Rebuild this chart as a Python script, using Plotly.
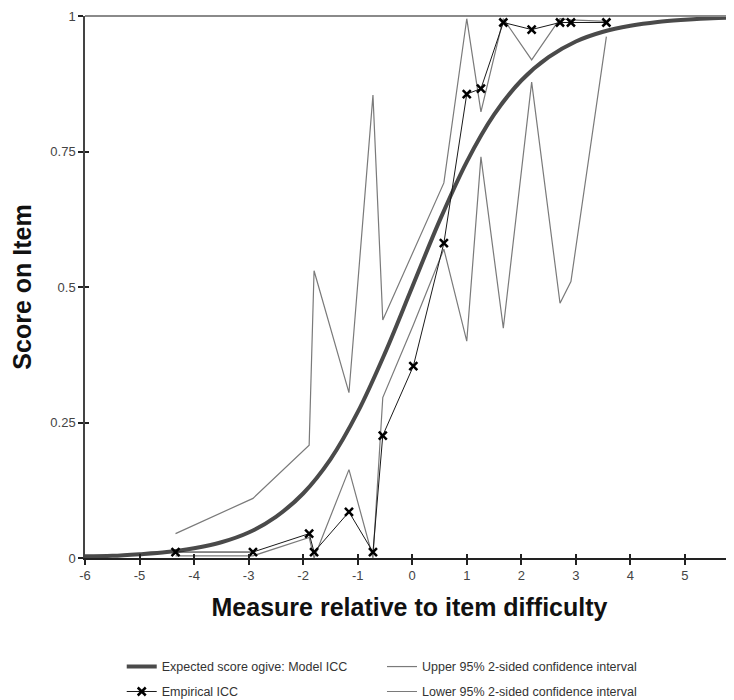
import plotly.graph_objects as go

# ---- data ----
model_x = [-6, -5.5, -5, -4.5, -4, -3.5, -3, -2.5, -2, -1.5, -1, -0.5, 0, 0.5, 1, 1.5, 2, 2.5, 3, 3.5, 4, 4.5, 5, 5.5, 5.9]
model_y = [0.003, 0.004, 0.007, 0.011, 0.018, 0.029, 0.047, 0.076, 0.119, 0.182, 0.269, 0.378, 0.5, 0.622,
           0.731, 0.818, 0.881, 0.924, 0.953, 0.971, 0.982, 0.989, 0.993, 0.996, 0.997]

emp_x = [-4.34, -2.92, -1.89, -1.80, -1.16, -0.72, -0.54, 0.02, 0.58, 1.00, 1.26, 1.67, 2.19, 2.71, 2.91, 3.56]
emp_y = [0.011, 0.011, 0.045, 0.011, 0.085, 0.011, 0.226, 0.354, 0.581, 0.856, 0.866, 0.988, 0.975, 0.988, 0.988, 0.988]
upper_y = [0.045, 0.110, 0.208, 0.530, 0.305, 0.854, 0.439, 0.565, 0.692, 0.995, 0.823, 0.995, 0.919, 0.995, 0.993, 0.990]
lower_y = [0.004, 0.004, 0.038, 0.0, 0.163, 0.0, 0.296, 0.43, 0.57, 0.40, 0.74, 0.424, 0.878, 0.47, 0.51, 0.962]

x_ticks = [-6, -5, -4, -3, -2, -1, 0, 1, 2, 3, 4, 5]
x_tick_text = ["-6", "-5", "-4", "-3", "-2", "-1", "0", "1", "2", "3", "4", "5"]
y_ticks = [0, 0.25, 0.5, 0.75, 1]
y_tick_text = ["0", "0.25", "0.5", "0.75", "1"]

x_title = "Measure relative to item difficulty"
y_title = "Score on Item"
names = ["Expected score ogive: Model ICC", "Empirical ICC",
         "Upper 95% 2-sided confidence interval", "Lower 95% 2-sided confidence interval"]

FONT = "Liberation Sans, Arial, sans-serif"

fig = go.Figure()
fig.add_trace(go.Scatter(x=emp_x, y=upper_y, mode="lines", name=names[2],
                         line=dict(color="#7a7a7a", width=1.2), legend="legend3", cliponaxis=False))
fig.add_trace(go.Scatter(x=emp_x, y=lower_y, mode="lines", name=names[3],
                         line=dict(color="#7a7a7a", width=1.2), legend="legend4", cliponaxis=False))
fig.add_trace(go.Scatter(x=model_x, y=model_y, mode="lines", name=names[0], line_shape="spline",
                         line=dict(color="#4a4a4a", width=4), legend="legend", cliponaxis=False))
fig.add_trace(go.Scatter(x=emp_x, y=emp_y, mode="lines+markers", name=names[1],
                         line=dict(color="#1a1a1a", width=1),
                         marker=dict(symbol="x-thin", size=8, line=dict(color="#000", width=2.5)),
                         legend="legend2", cliponaxis=False))
# helper overlay axes for the inner half of the crossing tick marks
fig.add_trace(go.Scatter(x=[], y=[], xaxis="x2", yaxis="y2", showlegend=False, hoverinfo="skip"))

XR = [-6, 5.9]
axis_common = dict(showgrid=False, zeroline=False, automargin=False)
# the page body has an 8px default margin, so the figure is 8px smaller than the window
fig.update_layout(
    width=726, height=692,
    showlegend=True,
    margin=dict(l=77, r=0, t=8, b=142, autoexpand=False),
    plot_bgcolor="white", paper_bgcolor="white",
    font=dict(family=FONT, color="#333"),
    xaxis=dict(range=XR, tickvals=x_ticks, ticktext=x_tick_text, ticks="outside", ticklen=5, tickwidth=1.5,
               tickcolor="#222", showline=True, linecolor="#222", linewidth=1.5,
               tickfont=dict(size=13, color="#444"),
               title=dict(text=x_title, font=dict(size=25, color="#111", family=FONT, weight="bold"), standoff=16),
               **axis_common),
    yaxis=dict(range=[0, 1], tickvals=y_ticks, ticktext=y_tick_text, ticks="outside", ticklen=5, tickwidth=1.5,
               tickcolor="#222", showline=True, linecolor="#444", linewidth=1.5,
               tickfont=dict(size=13, color="#444"),
               title=dict(text=y_title, font=dict(size=25, color="#111", family=FONT, weight="bold"), standoff=12),
               **axis_common),
    xaxis2=dict(range=XR, overlaying="x", anchor="y2", side="bottom", tickvals=x_ticks, ticks="inside", ticklen=4,
                tickwidth=1.5, tickcolor="#222", showticklabels=False, showline=False, **axis_common),
    yaxis2=dict(range=[0, 1], overlaying="y", anchor="x2", side="left", tickvals=y_ticks, ticks="inside", ticklen=4,
                tickwidth=1.5, tickcolor="#222", showticklabels=False, showline=False, **axis_common),
    shapes=[dict(type="line", xref="paper", yref="paper", x0=0, x1=1, y0=1, y1=1,
                 line=dict(color="#8a8a8a", width=2))],
)

leg_font = dict(family=FONT, size=12.5, color="#333")
leg_common = dict(bgcolor="rgba(0,0,0,0)", font=leg_font, itemwidth=30, yanchor="middle", xanchor="left",
                  orientation="v", visible=True)
fig.update_layout(
    legend=dict(x=0.0566, y=-0.201, **leg_common),
    legend2=dict(x=0.0566, y=-0.247, **leg_common),
    legend3=dict(x=0.4576, y=-0.201, **leg_common),
    legend4=dict(x=0.4576, y=-0.247, **leg_common),
)

fig.write_html("out.html")
